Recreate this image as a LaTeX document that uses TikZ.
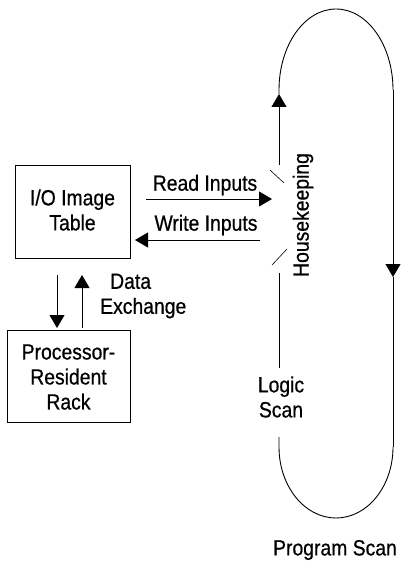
\documentclass[tikz,border=0pt]{standalone}
\usepackage{fontspec}
\setmainfont[FakeStretch=0.88, FakeBold=0.6]{Liberation Sans}
\usetikzlibrary{arrows.meta}
\begin{document}
\begin{tikzpicture}[x=1pt,y=1pt,
  every node/.style={font=\fontsize{22}{25}\selectfont, inner sep=0pt},
  box/.style={draw, line width=0.9pt},
  ln/.style={line width=0.9pt},
  arr/.style={line width=0.9pt, -{Triangle[length=13pt,width=15pt]}}]
\useasboundingbox (0,0) rectangle (401,-561);
% boxes
\node[box, minimum width=115pt, minimum height=93pt] (io) at (72.5,-211.5) {};
\node[align=center] (iot) at (72.5,-210) {I/O Image\\Table};
\node[box, minimum width=123pt, minimum height=92pt] (pr) at (68.5,-376) {};
\node[align=center] (prt) at (68.5,-377) {Processor-\\Resident\\Rack};
% data exchange
\node[anchor=west, align=left] (dx) at (100,-296) {\hspace*{10pt}Data\\Exchange};
\coordinate (d1) at (57,-275);
\coordinate (d2) at (57,-328);
\coordinate (u1) at (82,-328);
\coordinate (u2) at (82,-275);
\draw[arr] (d1) -- (d2);
\draw[arr] (u1) -- (u2);
% read / write
\coordinate (r1) at (146,-199);
\coordinate (r2) at (272,-199);
\coordinate (w1) at (260,-240);
\coordinate (w2) at (135,-240);
\draw[arr] (r1) -- (r2);
\draw[arr] (w1) -- (w2);
\node (rd) at (205,-185) {Read Inputs};
\node (wr) at (206,-225) {Write Inputs};
% loop
\coordinate (ltop) at (279,-90);
\coordinate (la) at (279,-94);
\coordinate (l1) at (279,-165);
\coordinate (l2) at (279,-273);
\coordinate (l3) at (279,-368);
\coordinate (l4) at (279,-437);
\coordinate (lbot) at (279,-447);
\coordinate (rtop) at (393,-90);
\coordinate (ra) at (393,-277);
\coordinate (rbot) at (393,-447);
\draw[arr] (l1) -- (la);
\draw[ln] (la) -- (ltop) arc[start angle=180, end angle=0, x radius=57pt, y radius=81pt];
\draw[arr] (rtop) -- (ra);
\draw[ln] (ra) -- (rbot);
\draw[ln] (l2) -- (l3);
\draw[ln] (l4) -- (lbot) arc[start angle=180, end angle=360, x radius=57pt, y radius=71pt];
\coordinate (s1a) at (270,-170);
\coordinate (s1b) at (284,-183);
\coordinate (s2a) at (272,-265);
\coordinate (s2b) at (287,-249);
\draw[line width=0.6pt] (s1a) -- (s1b);
\draw[line width=0.6pt] (s2a) -- (s2b);
\node[rotate=90] (hk) at (303,-215) {Housekeeping};
\node[align=center] (ls) at (281,-397) {Logic\\Scan};
\node (ps) at (335,-550) {Program Scan};
\end{tikzpicture}
\end{document}
